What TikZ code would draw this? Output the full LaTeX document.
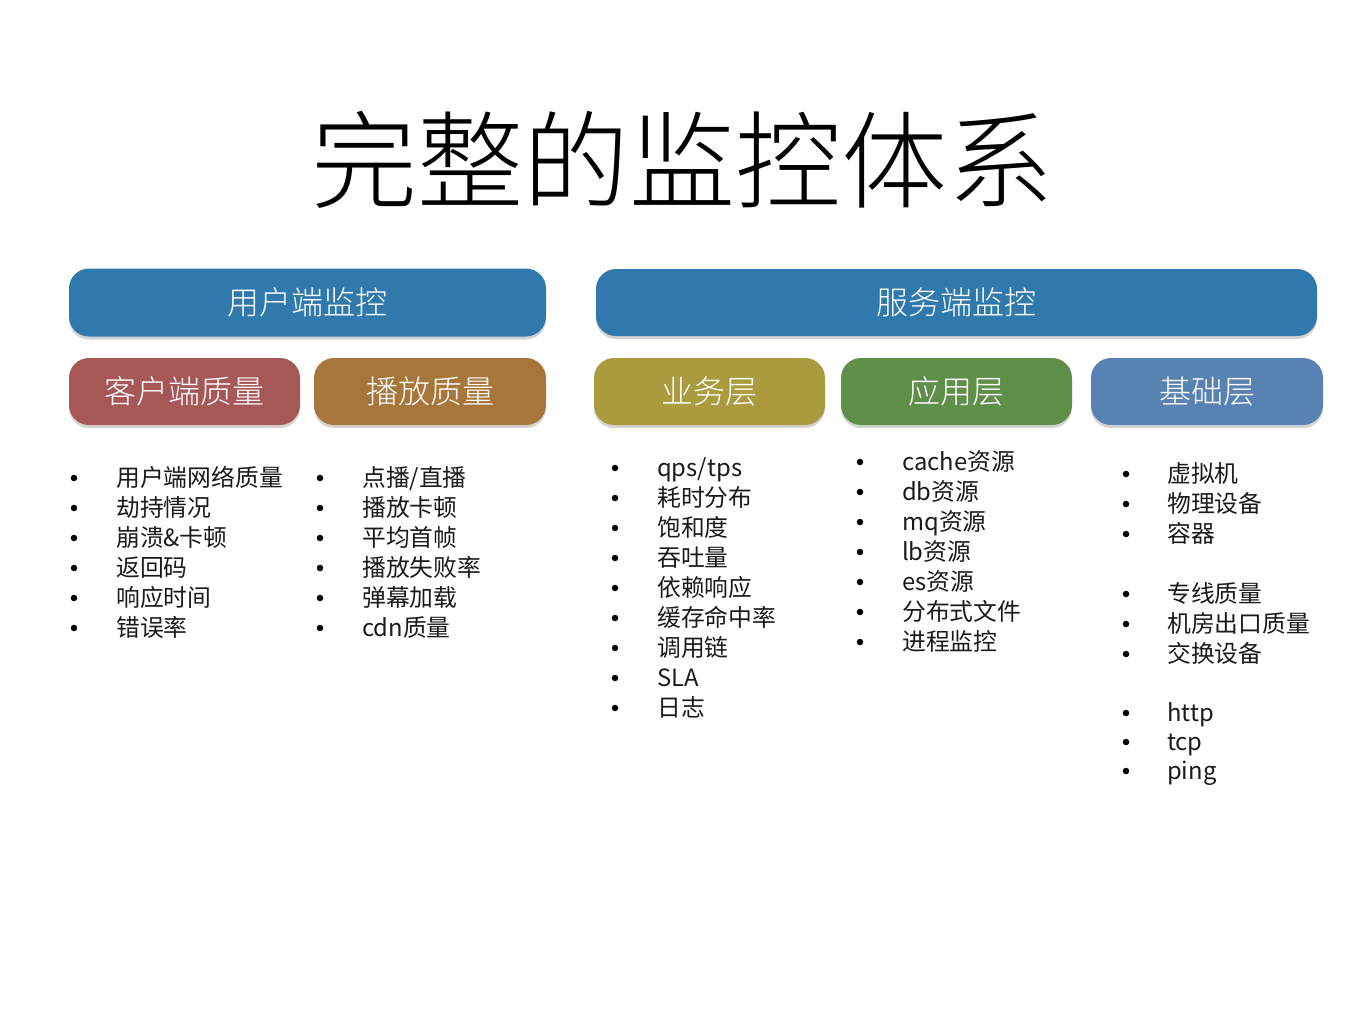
\documentclass[tikz,border=0pt]{standalone}
\usepackage{fontspec}
\setmainfont{Noto Sans CJK SC}
\newfontfamily\lightfont{Noto Sans CJK SC Light}
\usetikzlibrary{shadows}
\definecolor{cblue}{HTML}{2F79AC}
\definecolor{cred}{HTML}{A65856}
\definecolor{cbrown}{HTML}{A8763A}
\definecolor{colive}{HTML}{A99B3E}
\definecolor{cgreen}{HTML}{5F8F48}
\definecolor{csteel}{HTML}{5782B1}
\definecolor{ctext}{HTML}{1A1A1A}
\tikzset{
  hdr/.style={rounded corners=20pt, text=white, inner sep=0pt,
    font=\lightfont\fontsize{32}{32}\selectfont,
    drop shadow={opacity=0.35, shadow xshift=0pt, shadow yshift=-3pt}},
  item/.style={anchor=west, inner sep=0pt, text=ctext, text height=18pt, text depth=5pt,
    font=\fontsize{23.8}{24}\selectfont},
  bul/.style={circle, fill=black, inner sep=0pt, minimum size=6.5pt},
}
\begin{document}
\begin{tikzpicture}[x=1pt, y=-1pt]
\useasboundingbox (0,0) rectangle (1365,1023);
\node[inner sep=0pt, font=\lightfont\fontsize{106}{106}\selectfont, text=black] (title) at (682,160) {完整的监控体系};

\node[hdr, fill=cblue, minimum width=477pt, minimum height=68pt] (user) at (307.5,302.5) {用户端监控};
\node[hdr, fill=cblue, minimum width=721pt, minimum height=67pt] (server) at (956.5,302.5) {服务端监控};

\node[hdr, fill=cred, minimum width=231pt, minimum height=67pt] (client) at (184.5,391.5) {客户端质量};
\node[hdr, fill=cbrown, minimum width=232pt, minimum height=67pt] (play) at (430,391.5) {播放质量};
\node[hdr, fill=colive, minimum width=231pt, minimum height=67pt] (biz) at (709.5,391.5) {业务层};
\node[hdr, fill=cgreen, minimum width=231pt, minimum height=67pt] (app) at (956.5,391.5) {应用层};
\node[hdr, fill=csteel, minimum width=232pt, minimum height=67pt] (base) at (1207,391.5) {基础层};

\foreach \t [count=\i] in {用户端网络质量,劫持情况,崩溃\&卡顿,返回码,响应时间,错误率}{
  \node[bul] (ab\i) at (74,448+30*\i) {};
  \node[item] (a\i) at (116,450+30*\i) {\t};
}
\foreach \t [count=\i] in {点播/直播,播放卡顿,平均首帧,播放失败率,弹幕加载,cdn质量}{
  \node[bul] (bb\i) at (320,448+30*\i) {};
  \node[item] (b\i) at (362,450+30*\i) {\t};
}
\foreach \t [count=\i] in {qps/tps,耗时分布,饱和度,吞吐量,依赖响应,缓存命中率,调用链,SLA,日志}{
  \node[bul] (cb\i) at (615,438+30*\i) {};
  \node[item] (c\i) at (657,440+30*\i) {\t};
}
\foreach \t [count=\i] in {cache资源,db资源,mq资源,lb资源,es资源,分布式文件,进程监控}{
  \node[bul] (db\i) at (860,432+30*\i) {};
  \node[item] (d\i) at (902,434+30*\i) {\t};
}
\foreach \y/\t [count=\i] in {474/虚拟机,504/物理设备,534/容器,594/专线质量,624/机房出口质量,654/交换设备,713/http,742/tcp,771/ping}{
  \node[bul] (eb\i) at (1126,\y) {};
  \node[item] (e\i) at (1167,\y+2) {\t};
}
\end{tikzpicture}
\end{document}
